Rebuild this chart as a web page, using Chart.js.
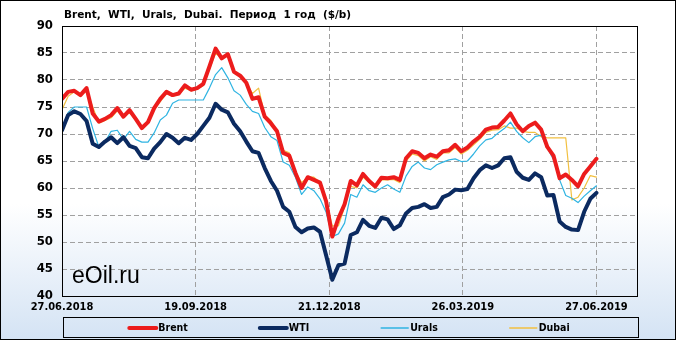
<!DOCTYPE html>
<html>
<head>
<meta charset="utf-8">
<script src="https://cdn.jsdelivr.net/npm/chart.js@4.4.1/dist/chart.umd.min.js"></script>
<style>
  html, body { margin: 0; padding: 0; background: #fff; }
  #wrap { width: 676px; height: 340px; }
</style>
</head>
<body>
<div id="wrap"><canvas id="oil" width="676" height="340"></canvas></div>
<script>
// prices, $/b, one value every 3 trading days from 27.06.2018
const brent = [76.5, 77.8, 78.0, 77.2, 78.5, 73.8, 72.3, 72.8, 73.5, 74.8,
  73.2, 74.4, 72.8, 71.1, 72.2, 74.8, 76.5, 77.8, 77.2, 77.5,
  79.0, 78.2, 78.5, 79.3, 82.5, 85.8, 84.0, 84.8, 81.5, 80.8,
  79.5, 76.5, 76.8, 73.2, 72.0, 70.5, 66.5, 66.0, 62.8, 60.0,
  62.0, 61.5, 61.0, 57.5, 51.0, 54.4, 57.0, 61.3, 60.5, 62.6,
  61.3, 60.3, 61.9, 61.8, 62.0, 61.5, 65.5, 66.8, 66.5, 65.5,
  66.2, 65.8, 66.8, 67.0, 68.0, 66.8, 67.5, 68.6, 69.5, 70.8,
  71.2, 71.3, 72.5, 73.8, 71.8, 70.5, 71.5, 72.1, 70.8, 67.6,
  66.0, 61.8, 62.5, 61.5, 60.3, 62.6, 64.0, 65.4];
const wti = [70.7, 73.5, 74.2, 73.7, 72.4, 68.2, 67.6, 68.6, 69.4, 68.3,
  69.4, 67.8, 67.4, 65.7, 65.5, 67.3, 68.5, 70.0, 69.3, 68.3,
  69.3, 68.9, 70.0, 71.5, 73.0, 75.6, 74.5, 74.0, 71.9, 70.5,
  68.6, 66.8, 66.5, 63.7, 61.3, 59.5, 56.5, 55.6, 52.8, 51.8,
  52.5, 52.7, 51.9, 47.5, 43.0, 45.7, 46.0, 51.3, 51.8, 54.1,
  53.0, 52.6, 54.5, 54.2, 52.4, 53.1, 55.3, 56.3, 56.5, 57.0,
  56.3, 56.5, 58.3, 58.8, 59.7, 59.6, 59.8, 61.8, 63.3, 64.2,
  63.7, 64.2, 65.5, 65.7, 63.0, 61.9, 61.5, 62.7, 62.0, 58.6,
  58.7, 53.8, 52.8, 52.3, 52.2, 55.6, 58.0, 59.1];
const urals = [70.8, 74.0, 75.0, 75.0, 75.0, 71.0, 67.6, 68.5, 70.5, 70.7,
  69.0, 70.5, 69.0, 68.5, 68.5, 70.2, 72.6, 73.5, 75.7, 76.3,
  76.3, 76.3, 76.3, 76.3, 78.5, 81.0, 82.3, 80.4, 78.0, 77.2,
  75.5, 74.2, 73.8, 71.2, 69.5, 68.8, 64.8, 64.2, 62.0, 58.8,
  60.2, 59.5, 58.0, 55.5, 51.0, 51.5, 53.5, 58.8, 58.3, 60.6,
  59.5, 59.2, 60.0, 60.6, 59.8, 59.2, 62.2, 64.0, 64.8, 63.7,
  63.4, 64.3, 64.8, 65.2, 65.4, 64.9, 65.0, 66.3, 67.8, 68.9,
  69.2, 70.2, 71.0, 72.2, 70.5, 69.3, 68.4, 69.5, 69.8, 67.4,
  65.3, 61.5, 58.6, 58.1, 57.3, 58.5, 59.5, 60.4];
const dubai = [74.5, 77.0, 77.8, 77.0, 78.0, 75.0, 72.0, 72.5, 73.0, 74.3,
  73.0, 74.0, 72.5, 71.0, 72.0, 74.5, 76.0, 77.5, 77.0, 77.3,
  78.5, 78.0, 78.3, 79.0, 82.0, 85.0, 84.0, 84.5, 81.5, 80.8,
  79.5, 77.5, 78.5, 73.5, 72.5, 70.5, 67.0, 66.5, 63.0, 61.0,
  62.0, 62.0, 61.0, 57.5, 53.0, 53.0, 56.5, 60.3, 60.0, 62.0,
  61.0, 60.0, 61.5, 61.5, 61.6, 61.0, 65.0, 66.3, 66.0, 65.0,
  65.8, 65.3, 66.5, 66.5, 67.5, 66.3, 67.0, 68.0, 69.0, 70.3,
  70.7, 70.8, 71.5, 71.1, 71.1, 70.5, 70.3, 70.3, 69.5, 69.3,
  69.3, 69.3, 69.3, 57.8, 58.3, 60.0, 62.3, 62.0];

// dates shown on the x axis and where they fall in the series
const dateLabels = ['27.06.2018', '19.09.2018', '21.12.2018', '26.03.2019', '27.06.2019'];
const dateIndex = [0, 21.75, 43.5, 65.25, 87];

const seriesNames = ['Brent', 'WTI', 'Urals', 'Dubai'];
const seriesData = [brent, wti, urals, dubai];
const colors = ['#ec1c1c', '#0b2a60', '#2fb4e2', '#f2c040'];
const widths = [4, 4, 1.2, 1.2];

const toPoints = arr => arr.map((v, i) => ({ x: i, y: v }));

const chrome = {
  id: 'chrome',
  beforeDraw(chart) {
    const { ctx, width, height } = chart;
    const g = ctx.createLinearGradient(0, 0, 0, height);
    g.addColorStop(0, '#ffffff');
    g.addColorStop(0.6, '#ffffff');
    g.addColorStop(1, '#d4e3f4');
    ctx.save();
    ctx.fillStyle = g;
    ctx.fillRect(0, 0, width, height);
    ctx.restore();
  },
  beforeDatasetsDraw(chart) {
    const { ctx, chartArea: a } = chart;
    ctx.save();
    ctx.fillStyle = '#000';
    ctx.font = '23px "Liberation Sans", Arial, sans-serif';
    ctx.textBaseline = 'alphabetic';
    ctx.fillText('eOil.ru', a.left + 10, a.bottom - 13);
    ctx.restore();
  },
  afterDraw(chart) {
    const { ctx, chartArea: a, width, height } = chart;
    ctx.save();
    ctx.strokeStyle = '#000';
    ctx.lineWidth = 1;
    ctx.strokeRect(a.left + 0.5, a.top + 0.5, a.right - a.left, a.bottom - a.top);
    ctx.strokeRect(0.5, 0.5, width - 1, height - 1);

    // title
    ctx.fillStyle = '#000';
    ctx.font = 'bold 10.5px "DejaVu Sans", sans-serif';
    ctx.textBaseline = 'middle';
    ctx.fillText('Brent,  WTI,  Urals,  Dubai.  Период  1 год  ($/b)', a.left + 2, 15);

    // legend box
    const top = chart.scales.x.bottom;
    const boxH = 20;
    ctx.strokeRect(a.left + 1.5, top + 0.5, a.right - a.left, boxH);
    ctx.font = 'bold 10.5px "DejaVu Sans Condensed", "DejaVu Sans", sans-serif';
    const sample = 27, gap = 2, spacing = 72;
    const itemW = seriesNames.map(n => sample + gap + ctx.measureText(n).width);
    const total = itemW.reduce((s, w) => s + w, 0) + spacing * (itemW.length - 1);
    let x = (a.left + a.right) / 2 - total / 2;
    const midY = top + boxH / 2 + 1;
    seriesNames.forEach((n, i) => {
      ctx.beginPath();
      ctx.strokeStyle = colors[i];
      ctx.lineWidth = widths[i] > 2 ? 4 : 1.5;
      ctx.lineCap = 'round';
      ctx.moveTo(x, midY);
      ctx.lineTo(x + sample, midY);
      ctx.stroke();
      ctx.fillStyle = '#000';
      ctx.fillText(n, x + sample + gap, midY);
      x += itemW[i] + spacing;
    });
    ctx.restore();
  }
};

new Chart(document.getElementById('oil'), {
  type: 'line',
  data: {
    datasets: seriesNames.map((name, i) => ({
      label: name,
      data: toPoints(seriesData[i]),
      borderColor: colors[i],
      backgroundColor: colors[i],
      borderWidth: widths[i],
      borderJoinStyle: 'round',
      borderCapStyle: 'round',
      pointRadius: 0,
      tension: 0
    }))
  },
  options: {
    responsive: false,
    animation: false,
    devicePixelRatio: 1,
    layout: { padding: { left: 0, right: 39, top: 26, bottom: 23 } },
    plugins: {
      legend: { display: false },
      title: { display: false },
      tooltip: { enabled: false }
    },
    scales: {
      x: {
        type: 'linear',
        min: 0,
        max: 93.6,
        afterBuildTicks: s => { s.ticks = dateIndex.map(v => ({ value: v })); },
        afterFit: s => { s.height = 21; },
        ticks: {
          autoSkip: false,
          maxRotation: 0,
          padding: 5,
          color: '#000',
          font: { family: '"DejaVu Sans Condensed", "DejaVu Sans", sans-serif', weight: 'bold', size: 11 },
          callback: v => dateLabels[dateIndex.indexOf(v)]
        },
        grid: { color: '#a0a0a0', drawTicks: false, lineWidth: 1 },
        border: { display: false, dash: [5, 3] }
      },
      y: {
        min: 40,
        max: 90,
        afterFit: s => { s.width = 62; },
        ticks: {
          stepSize: 5,
          padding: 9,
          color: '#000',
          font: { family: '"DejaVu Sans Condensed", "DejaVu Sans", sans-serif', weight: 'bold', size: 13 }
        },
        grid: { color: '#a0a0a0', drawTicks: false, lineWidth: 1 },
        border: { display: false, dash: [5, 3] }
      }
    }
  },
  plugins: [chrome]
});
</script>
</body>
</html>
